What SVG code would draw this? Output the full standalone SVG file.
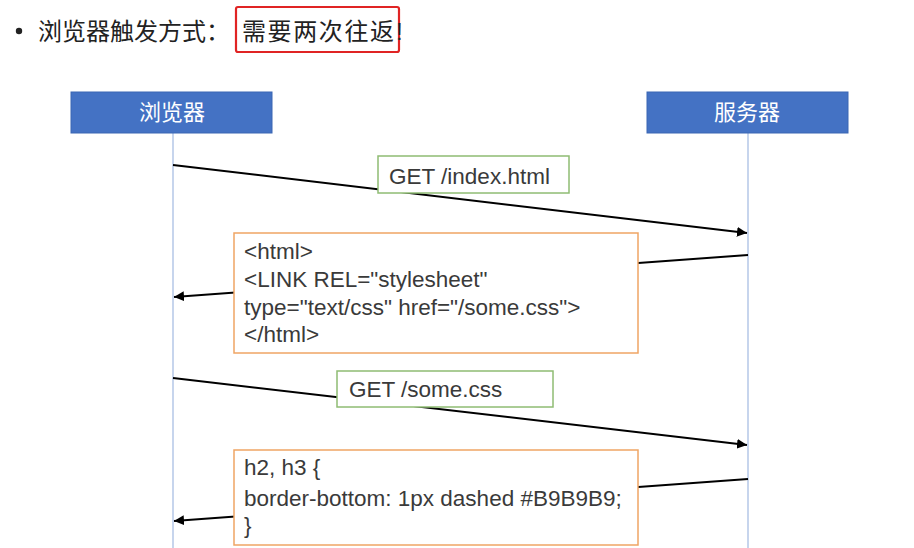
<svg xmlns="http://www.w3.org/2000/svg" width="914" height="548" viewBox="0 0 914 548">
<style>
.t{font-family:"Liberation Sans","Noto Sans CJK SC",Arial,sans-serif;fill:#3a3a3a;font-size:22.5px}
.cn{font-family:"Noto Sans CJK SC","Liberation Sans",sans-serif;fill:#222;font-size:24px}
.hd{fill:#4472C4;stroke:#3A66B3;stroke-width:1}
.hdt{font-family:"Noto Sans CJK SC",sans-serif;fill:#fff;font-size:22px;text-anchor:middle}
.life{stroke:#B4C7E7;stroke-width:1.5}
.msg{stroke:#000;stroke-width:2;fill:none;marker-end:url(#ah)}
.gbox{fill:#fff;stroke:#8FBC73;stroke-width:1.5}
.obox{fill:#fff;stroke:#EFA564;stroke-width:1.5}
</style>
<defs>
<marker id="ah" viewBox="0 0 10 10" refX="10" refY="5" markerWidth="5" markerHeight="5" orient="auto" markerUnits="strokeWidth">
<path d="M0,0 L10,5 L0,10 z" fill="#000"/>
</marker>
</defs>
<rect width="914" height="548" fill="#fff"/>
<g id="title">
<circle cx="19" cy="31" r="3.2" fill="#222"/>
<text class="cn" x="38" y="40">浏览器触发方式：</text>
<rect x="236" y="7" width="163" height="45" rx="2" fill="none" stroke="#E02424" stroke-width="2.2"/>
<text class="cn" x="242" y="40" textLength="152">需要两次往返</text>
<text x="396" y="40" font-family="Liberation Sans, sans-serif" font-size="24" fill="#222">!</text>
</g>
<g id="lifelines">
<line class="life" x1="173" y1="133" x2="173" y2="548"/>
<line class="life" x1="748" y1="133" x2="748" y2="548"/>
</g>
<g id="browser">
<rect class="hd" x="71" y="92" width="201" height="41"/>
<text class="hdt" x="172" y="120">浏览器</text>
</g>
<g id="server">
<rect class="hd" x="647" y="92" width="201" height="41"/>
<text class="hdt" x="747" y="120">服务器</text>
</g>
<g id="connectors">
<line class="msg" x1="173" y1="165" x2="747" y2="233"/>
<line class="msg" x1="748" y1="255" x2="174" y2="297"/>
<line class="msg" x1="173" y1="378" x2="747" y2="445"/>
<line class="msg" x1="748" y1="479" x2="174" y2="521"/>
</g>
<g id="label-get-index">
<rect class="gbox" x="378" y="156" width="191" height="37"/>
<text class="t" x="389" y="184">GET /index.html</text>
</g>
<g id="response-html">
<rect class="obox" x="234" y="233" width="404" height="120"/>
<text class="t" x="244" y="259">&lt;html&gt;</text>
<text class="t" x="244" y="287">&lt;LINK REL="stylesheet"</text>
<text class="t" x="244" y="315">type="text/css" href="/some.css"&gt;</text>
<text class="t" x="244" y="342">&lt;/html&gt;</text>
</g>
<g id="label-get-css">
<rect class="gbox" x="337" y="371" width="216" height="36"/>
<text class="t" x="349" y="397">GET /some.css</text>
</g>
<g id="response-css">
<rect class="obox" x="234" y="450" width="404" height="95"/>
<text class="t" x="244" y="475">h2, h3 {</text>
<text class="t" x="244" y="506">border-bottom: 1px dashed #B9B9B9;</text>
<text class="t" x="244" y="533">}</text>
</g>
</svg>
